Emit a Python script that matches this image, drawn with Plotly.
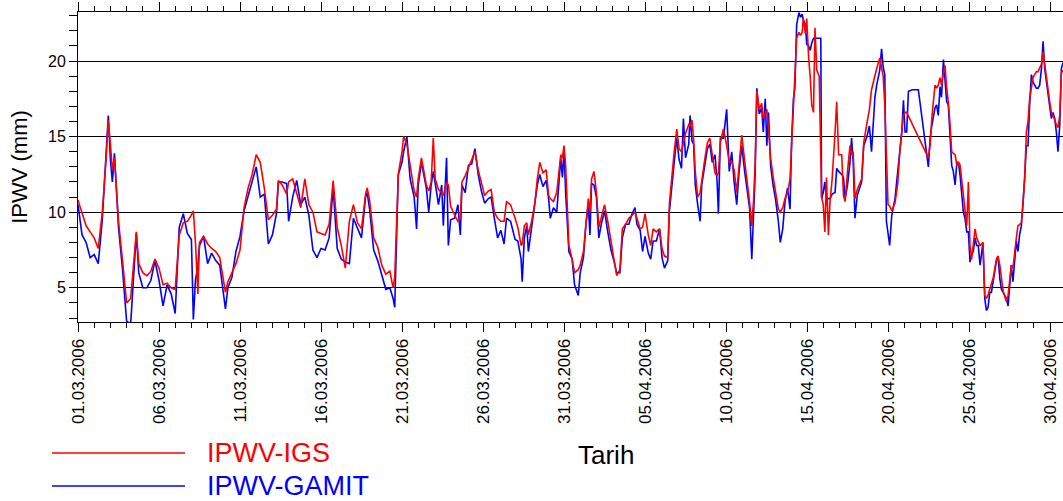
import plotly.graph_objects as go
from datetime import datetime, timedelta

# Day offsets from 01.03.2006 00:00 and IPWV values (mm)
days = [0.0, 0.25, 0.5, 0.75, 1.0, 1.25, 1.5, 1.75, 1.87, 2.0, 2.12, 2.25, 2.5, 2.75, 3.0, 3.25, 3.5, 3.6, 3.75, 4.0,
        4.25, 4.5, 4.75, 5.0, 5.25, 5.5, 5.75, 6.0, 6.25, 6.5, 6.75, 7.0, 7.12, 7.25, 7.4, 7.5, 7.75, 8.0, 8.25, 8.5,
        8.75, 9.0, 9.1, 9.25, 9.5, 9.75, 10.0, 10.25, 10.5, 10.75, 11.0, 11.25, 11.5, 11.75, 12.0, 12.25, 12.37, 12.6, 12.88, 13.0,
        13.25, 13.5, 13.75, 14.0, 14.25, 14.5, 14.75, 15.0, 15.25, 15.5, 15.75, 16.0, 16.25, 16.5, 16.75, 17.0, 17.25, 17.5, 17.75, 17.85,
        18.0, 18.25, 18.5, 18.75, 19.0, 19.25, 19.45, 19.55, 19.67, 19.77, 20.0, 20.1, 20.3, 20.5, 20.75, 20.9, 21.0, 21.2, 21.5, 21.65,
        21.8, 21.93, 22.05, 22.25, 22.45, 22.55, 22.75, 22.86, 23.0, 23.25, 23.45, 23.6, 23.7, 23.9, 24.1, 24.3, 24.5, 24.7, 24.9, 25.1,
        25.33, 25.5, 25.7, 25.9, 26.1, 26.3, 26.45, 26.7, 26.98, 27.15, 27.35, 27.42, 27.55, 27.7, 27.8, 28.0, 28.2, 28.35, 28.5, 28.7,
        28.9, 29.05, 29.15, 29.35, 29.55, 29.7, 29.8, 29.9, 30.0, 30.1, 30.2, 30.3, 30.5, 30.65, 30.88, 31.0, 31.2, 31.35, 31.5, 31.6,
        31.7, 31.85, 32.0, 32.15, 32.3, 32.5, 32.7, 32.9, 33.1, 33.25, 33.45, 33.6, 33.8, 34.0, 34.2, 34.38, 34.5, 34.7, 34.85, 35.0,
        35.2, 35.35, 35.5, 35.7, 35.9, 36.05, 36.2, 36.4, 36.5, 36.65, 36.8, 36.96, 37.1, 37.25, 37.37, 37.5, 37.7, 37.78, 37.9, 38.0,
        38.1, 38.25, 38.4, 38.5, 38.7, 38.85, 39.0, 39.15, 39.32, 39.45, 39.53, 39.65, 39.84, 40.04, 40.2, 40.35, 40.5, 40.66, 40.8, 40.97,
        41.15, 41.3, 41.45, 41.59, 41.7, 41.8, 41.9, 42.05, 42.2, 42.3, 42.42, 42.52, 42.62, 42.75, 42.9, 43.05, 43.23, 43.35, 43.5, 43.64,
        43.8, 43.95, 44.05, 44.16, 44.25, 44.36, 44.5, 44.6, 44.7, 44.77, 44.9, 44.98, 45.1, 45.2, 45.29, 45.4, 45.49, 45.6, 45.75, 45.85,
        45.9, 46.0, 46.1, 46.2, 46.32, 46.42, 46.55, 46.73, 46.83, 46.95, 47.14, 47.25, 47.35, 47.5, 47.65, 47.75, 47.85, 47.96, 48.1, 48.37,
        48.5, 48.7, 48.85, 48.98, 49.19, 49.3, 49.49, 49.6, 49.7, 49.8, 49.9, 50.0, 50.1, 50.23, 50.43, 50.6, 50.74, 50.85, 50.95, 51.05,
        51.15, 51.26, 51.5, 51.87, 52.49, 52.6, 52.7, 52.8, 52.9, 53.0, 53.1, 53.21, 53.3, 53.42, 53.52, 53.62, 53.72, 53.82, 53.93, 54.03,
        54.14, 54.25, 54.35, 54.45, 54.55, 54.65, 54.75, 54.86, 54.96, 55.06, 55.16, 55.26, 55.37, 55.47, 55.57, 55.68, 55.86, 55.97, 56.07, 56.17,
        56.28, 56.38, 56.5, 56.69, 56.79, 56.9, 57.0, 57.1, 57.3, 57.41, 57.5, 57.61, 57.71, 57.82, 57.92, 58.02, 58.12, 58.23, 58.33, 58.43,
        58.54, 58.64, 58.74, 58.85, 58.95, 59.05, 59.16, 59.26, 59.36, 59.47, 59.57, 59.67, 59.78, 59.88, 59.98, 60.08, 60.18, 60.29, 60.39, 60.49,
        60.6, 60.7, 60.8]

ipwv_igs = [10.8, 10.0, 9.1, 8.7, 8.3, 7.6, 10.0, 13.8, 16.1, 14.5, 12.8, 13.6, 9.4, 6.8, 4.0, 4.3, 7.5, 8.7, 6.6, 6.0,
            5.8, 6.1, 6.9, 6.3, 5.2, 5.3, 5.0, 4.9, 8.5, 9.3, 9.4, 9.8, 10.1, 8.0, 4.6, 8.0, 8.4, 7.9, 7.6, 7.4,
            7.0, 5.5, 4.7, 5.4, 6.0, 6.6, 7.5, 10.3, 11.6, 12.5, 13.8, 13.3, 11.6, 9.5, 9.8, 10.2, 12.1, 11.8, 11.2, 12.0,
            12.2, 11.3, 10.3, 12.2, 10.5, 10.0, 8.7, 8.6, 8.5, 9.2, 12.1, 9.0, 7.8, 6.3, 9.4, 10.5, 9.3, 8.9, 11.2, 11.6,
            10.8, 8.3, 7.7, 6.5, 5.9, 6.1, 5.0, 5.7, 9.4, 12.5, 14.0, 15.0, 14.5, 13.0, 11.4, 11.0, 12.2, 13.6, 11.8, 11.4,
            12.0, 14.9, 12.2, 11.5, 11.3, 11.1, 12.0, 11.8, 10.4, 9.8, 9.4, 9.6, 12.0, 12.4, 12.9, 13.4, 14.0, 12.8, 11.9, 11.1,
            11.4, 11.5, 10.0, 9.6, 9.4, 9.4, 10.7, 10.5, 9.6, 9.0, 7.8, 7.9, 9.1, 9.3, 8.5, 9.4, 10.6, 12.2, 13.3, 12.6,
            12.8, 11.1, 10.9, 10.7, 11.3, 12.9, 13.8, 13.6, 14.4, 13.1, 10.0, 7.8, 6.9, 6.0, 6.2, 6.5, 7.4, 9.0, 10.9, 10.0,
            12.2, 12.7, 11.3, 9.0, 9.6, 10.5, 9.4, 8.0, 6.7, 5.8, 6.2, 8.9, 9.2, 9.6, 9.8, 10.0, 9.6, 8.9, 9.0, 9.9,
            8.5, 7.8, 8.9, 8.7, 8.9, 7.6, 7.1, 7.0, 10.5, 12.4, 14.0, 15.5, 14.2, 14.0, 14.5, 15.2, 15.8, 15.7, 16.1, 14.8,
            12.7, 11.0, 11.3, 12.2, 13.6, 14.6, 14.9, 13.8, 12.6, 12.4, 12.6, 14.6, 15.5, 14.4, 13.3, 13.3, 12.8, 11.3, 13.3, 15.1,
            13.4, 12.1, 10.7, 9.1, 10.8, 13.3, 18.0, 16.8, 17.2, 16.2, 16.6, 16.8, 15.6, 13.6, 12.4, 11.4, 10.2, 10.0, 10.3, 10.9,
            11.3, 12.2, 14.4, 16.9, 18.4, 21.5, 21.9, 21.7, 21.9, 22.8, 21.8, 22.8, 20.2, 18.9, 17.1, 16.6, 22.2, 19.4, 19.0, 12.7,
            11.0, 10.5, 8.7, 12.3, 8.5, 10.7, 12.2, 15.3, 17.3, 13.8, 13.8, 11.1, 10.7, 12.7, 14.4, 13.8, 14.0, 10.9, 11.5, 12.2,
            14.6, 15.9, 16.8, 18.1, 19.1, 19.5, 20.2, 19.5, 19.0, 17.1, 13.4, 10.5, 10.4, 10.1, 10.6, 11.9, 14.2, 15.5, 16.4, 16.6,
            16.6, None, None, None, 13.6, 14.5, 16.2, 17.1, 18.4, 18.2, 18.4, 18.9, 18.4, 19.2, 19.7, 18.2, 17.3, 15.9, 14.0, 13.9,
            13.8, 13.1, 13.3, 13.1, 12.0, 10.9, 10.0, 9.1, 12.0, 7.8, 6.9, 7.8, 8.9, 8.3, 8.0, 7.8, 8.0, 4.5, 4.3, 4.5,
            4.9, 5.2, 5.7, 6.9, 7.1, 6.5, 5.4, 4.8, 4.1, 4.5, 5.4, 6.5, 6.3, 7.6, 8.3, 9.1, 9.2, 9.3, 10.5, 12.2,
            15.3, 16.0, 17.5, 18.4, 18.9, 19.1, 19.3, 19.3, 19.5, 19.8, 20.6, 19.9, 19.0, 18.1, 17.3, 16.6, 16.4, 16.0, 15.8, 15.6,
            16.4, 19.2, 19.4]

ipwv_gamit = [10.5, 8.5, 8.0, 7.0, 7.2, 6.6, 9.5, 14.0, 16.4, 13.5, 12.0, 13.9, 9.0, 6.2, 2.8, 2.6, 7.5, 8.6, 6.0, 5.0,
              5.0, 5.5, 6.8, 5.5, 3.8, 5.2, 4.6, 3.3, 9.0, 9.9, 8.6, 8.2, 2.9, 5.5, 6.5, 7.8, 8.4, 6.6, 7.3, 6.8,
              6.5, 4.4, 3.6, 5.0, 5.7, 7.4, 8.4, 10.1, 11.1, 12.0, 13.0, 11.0, 11.2, 7.9, 8.5, 9.9, 12.0, 12.0, 11.9, 9.4,
              11.0, 12.1, 10.5, 11.0, 9.8, 7.5, 7.0, 7.6, 7.5, 8.3, 11.6, 7.6, 6.9, 6.7, 6.6, 9.6, 9.0, 8.3, 11.0, 11.3,
              10.2, 7.5, 6.8, 5.8, 4.9, 5.0, 4.3, 3.7, 8.3, 12.5, 13.3, 14.0, 15.0, 12.2, 11.0, 8.9, 11.8, 13.3, 11.6, 10.0,
              11.8, 12.7, 11.9, 10.5, 11.8, 9.1, 13.6, 7.8, 9.5, 9.6, 10.5, 8.5, 11.8, 11.3, 13.1, 13.2, 14.2, 12.5, 11.4, 10.6,
              10.9, 11.0, 9.6, 8.3, 8.8, 7.9, 9.6, 9.4, 8.2, 8.1, 6.9, 5.4, 8.3, 9.1, 7.4, 9.0, 10.6, 11.8, 12.5, 11.7,
              12.1, 10.9, 9.6, 10.3, 10.0, 11.9, 13.6, 12.3, 14.2, 11.3, 9.6, 7.4, 6.9, 5.2, 4.5, 6.0, 7.0, 9.2, 10.5, 8.5,
              11.9, 11.8, 11.0, 8.3, 9.2, 10.1, 8.7, 7.5, 6.7, 6.0, 6.0, 8.3, 9.2, 9.2, 9.9, 10.3, 9.2, 8.8, 7.4, 8.4,
              7.3, 6.9, 8.1, 8.1, 8.9, 7.0, 6.3, 6.8, 10.0, 11.9, 13.3, 14.9, 13.5, 12.9, 16.2, 13.6, 14.5, 16.4, 14.7, 14.5,
              11.8, 10.5, 9.4, 11.8, 13.2, 14.2, 14.5, 13.3, 13.8, 12.0, 9.9, 14.9, 14.9, 16.8, 12.7, 14.0, 12.0, 10.5, 12.6, 14.4,
              12.7, 11.4, 10.3, 6.9, 10.0, 12.6, 18.2, 16.5, 16.9, 15.3, 17.5, 14.4, 16.6, 13.1, 11.8, 10.9, 9.4, 8.0, 8.9, 10.7,
              11.6, 10.2, 14.8, 17.5, 18.2, 22.4, 23.2, 22.9, 23.1, 22.7, 22.4, 21.1, 21.0, 20.7, 21.2, 21.5, 21.5, 21.5, 21.5, 21.5,
              10.9, 11.3, 12.0, 10.9, 10.9, 10.9, 11.2, 11.3, 12.9, 12.7, 12.5, 12.3, 10.9, 11.8, 13.3, 14.9, 13.3, 9.6, 11.1, 12.0,
              14.4, 15.0, 15.7, 14.0, 17.6, 18.4, 19.4, 20.8, 19.6, 19.1, 9.4, 8.7, 7.8, 9.8, 10.9, 12.7, 14.4, 15.3, 17.4, 15.3,
              15.3, 18.0, 18.1, 18.1, 13.0, 14.9, 15.7, 16.2, 16.9, 17.1, 16.4, 18.3, 17.6, 20.1, 18.3, 17.3, 17.1, 14.9, 13.1, 12.7,
              11.8, 13.3, 13.3, 12.4, 11.3, 10.0, 9.6, 8.7, 8.7, 6.7, 7.2, 7.4, 8.3, 7.8, 7.8, 6.5, 8.0, 4.3, 3.5, 3.7,
              4.7, 4.7, 5.5, 6.8, 7.1, 5.6, 4.9, 4.7, 4.3, 3.8, 5.2, 6.5, 5.4, 6.9, 8.1, 7.4, 8.5, 9.1, 10.5, 12.2,
              14.4, 14.4, 17.1, 19.1, 18.6, 18.4, 18.2, 18.2, 18.4, 19.5, 21.3, 19.5, 18.6, 17.5, 16.8, 16.2, 16.6, 16.2, 15.3, 14.0,
              15.8, 19.5, 19.9]

x_tick_days = [0, 5, 10, 15, 20, 25, 30, 35, 40, 45, 50, 55, 60]
x_tick_labels = ["01.03.2006", "06.03.2006", "11.03.2006", "16.03.2006", "21.03.2006", "26.03.2006",
                 "31.03.2006", "05.04.2006", "10.04.2006", "15.04.2006", "20.04.2006", "25.04.2006", "30.04.2006"]
y_tick_vals = [5, 10, 15, 20]

base = datetime(2006, 3, 1)
times = [base + timedelta(days=d) for d in days]
tick_times = [base + timedelta(days=d) for d in x_tick_days]

FONT = "Arial, Liberation Sans, sans-serif"
W, H = 1063, 501
L, R, T, B = 78, 0, 12, 179
pw, ph = W - L - R, H - T - B


def px(x):
    return (x - L) / pw


def py(y):
    return (H - B - y) / ph


fig = go.Figure()
fig.add_trace(go.Scatter(x=times, y=ipwv_gamit, mode="lines", name="IPWV-GAMIT",
                         line=dict(color="#0000FF", width=1.6), connectgaps=True, showlegend=False))
fig.add_trace(go.Scatter(x=times, y=ipwv_igs, mode="lines", name="IPWV-IGS",
                         line=dict(color="#FF0000", width=1.6), connectgaps=True, showlegend=False))

# manual legend (long line samples as in the reference)
legend_items = [("IPWV-IGS", "#FF0000", 453), ("IPWV-GAMIT", "#0000FF", 486)]
shapes, annotations = [], []
for name, col, yy in legend_items:
    shapes.append(dict(type="line", xref="paper", yref="paper", x0=px(52), x1=px(185), y0=py(yy), y1=py(yy),
                       line=dict(color=col, width=1.6)))
    annotations.append(dict(text=name, xref="paper", yref="paper", x=px(205), y=py(yy), xanchor="left",
                            yanchor="middle", showarrow=False, font=dict(family=FONT, size=27, color=col)))
annotations.append(dict(text="Tarih", xref="paper", yref="paper", x=px(606), y=py(455), xanchor="center",
                        yanchor="middle", showarrow=False, font=dict(family=FONT, size=26, color="black")))

fig.update_layout(
    width=W, height=H, margin=dict(l=L, r=R, t=T, b=B, autoexpand=False),
    paper_bgcolor="white", plot_bgcolor="white",
    font=dict(family=FONT, color="black"),
    shapes=shapes, annotations=annotations,
    xaxis=dict(range=[base, base + timedelta(days=60.8)], tickvals=tick_times, ticktext=x_tick_labels,
               tickangle=-90, tickfont=dict(size=17), ticks="outside", ticklen=9, tickcolor="black",
               showline=True, linecolor="black", linewidth=1, mirror="ticks", showgrid=False, zeroline=False,
               automargin=False,
               minor=dict(dtick=86400000, ticks="outside", ticklen=5, tickcolor="black", showgrid=False)),
    yaxis=dict(range=[2.74, 23.24], tickvals=y_tick_vals, tickfont=dict(size=16), ticks="outside", ticklen=8,
               tickcolor="black", showline=True, linecolor="black", linewidth=1, showgrid=True,
               gridcolor="black", gridwidth=1, zeroline=False, automargin=False,
               title=dict(text="IPWV (mm)", font=dict(size=22), standoff=14),
               minor=dict(dtick=1, ticks="outside", ticklen=8, tickcolor="black", showgrid=False)),
)

fig.write_html("out.html", config={"displayModeBar": False},
               post_script="document.documentElement.style.margin='0';document.body.style.margin='0';"
                           "document.body.style.overflow='hidden';")
